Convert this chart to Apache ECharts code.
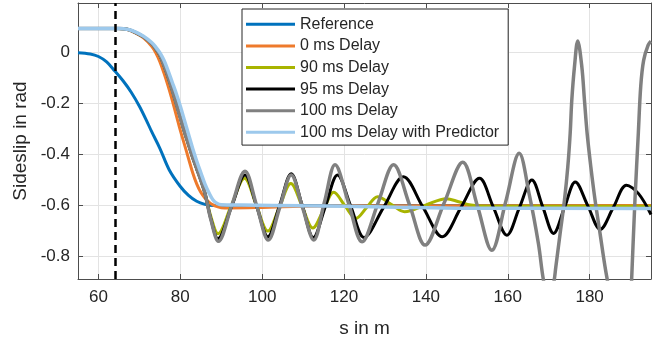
<!DOCTYPE html>
<html>
<head>
<meta charset="utf-8">
<script src="https://cdn.jsdelivr.net/npm/echarts@6/dist/echarts.min.js"></script>
<style>
html,body{margin:0;padding:0;background:#fff;}
#c{width:664px;height:343px;}
</style>
</head>
<body>
<div id="c"></div>
<script>
// ---------- data ----------
const xTicks = [60, 80, 100, 120, 140, 160, 180];
const xTickLabels = ['60', '80', '100', '120', '140', '160', '180'];
const yTicks = [-0.8, -0.6, -0.4, -0.2, 0];
const yTickLabels = ['-0.8', '-0.6', '-0.4', '-0.2', '0'];
const xRange = [55, 195];
const yRange = [-0.888, 0.195];
const triggerS = 64;

const seriesNames = ['Reference', '0 ms Delay', '90 ms Delay', '95 ms Delay', '100 ms Delay', '100 ms Delay with Predictor'];

const refS = [55, 58, 60, 62, 64, 66, 68, 70, 72, 73, 75, 77.3, 80, 82, 84, 86, 88, 90, 195];
const refV = [0, -0.005, -0.015, -0.036, -0.072, -0.11, -0.155, -0.21, -0.275, -0.31, -0.375, -0.46, -0.525, -0.56, -0.583, -0.595, -0.6, -0.6, -0.6];

const d0S = [55, 65, 67, 69, 71, 73, 74, 75, 76, 77, 78, 79, 80, 81, 82, 83, 84, 85, 86, 87, 88, 89, 90, 92, 100, 110, 120, 195];
const d0V = [0.095, 0.095, 0.091, 0.078, 0.058, 0.025, 0.0, -0.035, -0.08, -0.13, -0.185, -0.245, -0.305, -0.36, -0.415, -0.47, -0.515, -0.548, -0.57, -0.586, -0.597, -0.604, -0.608, -0.609, -0.607, -0.603, -0.601, -0.6];

const d90S = [55, 65, 67, 69, 71, 73, 74, 75, 76, 77, 78, 79, 80, 81, 82, 83, 84, 85, 86, 87.5, 89.2, 92.45, 95.7, 98.55, 101.4, 104.2, 107.0, 109.7, 112.4, 114.95, 117.5, 120.2, 122.9, 125.55, 128.2, 131.5, 134.8, 139.9, 145.0, 148, 151, 155, 195];
const d90V = [0.095, 0.095, 0.092, 0.08, 0.062, 0.035, 0.015, -0.01, -0.05, -0.095, -0.145, -0.2, -0.255, -0.31, -0.36, -0.41, -0.455, -0.5, -0.55, -0.645, -0.71, -0.6, -0.493, -0.597, -0.70, -0.606, -0.513, -0.6, -0.688, -0.618, -0.548, -0.6, -0.65, -0.607, -0.565, -0.595, -0.624, -0.598, -0.573, -0.585, -0.598, -0.603, -0.603];

const d95S = [55, 65, 67, 69, 71, 73, 74, 75, 76, 77, 78, 79, 80, 81, 82, 83, 84, 85, 86, 87.5, 89.2, 92.5, 95.8, 98.6, 101.4, 104.25, 107.1, 109.8, 112.5, 115.45, 118.4, 121.65, 124.9, 129.7, 134.5, 139.25, 144.0, 148.55, 153.1, 156.45, 159.8, 162.85, 165.9, 168.55, 171.2, 173.85, 176.5, 179.55, 182.6, 185.8, 189.0, 191.9, 195];
const d95V = [0.095, 0.095, 0.092, 0.08, 0.062, 0.035, 0.015, -0.01, -0.05, -0.095, -0.145, -0.2, -0.255, -0.31, -0.36, -0.41, -0.455, -0.5, -0.55, -0.655, -0.73, -0.605, -0.48, -0.6, -0.722, -0.6, -0.475, -0.6, -0.725, -0.603, -0.48, -0.603, -0.725, -0.606, -0.487, -0.605, -0.722, -0.608, -0.493, -0.605, -0.716, -0.608, -0.5, -0.605, -0.709, -0.608, -0.507, -0.6, -0.693, -0.607, -0.52, -0.552, -0.635];

const d100S = [55, 65, 67, 69, 71, 73, 74, 75, 76, 77, 78, 79, 80, 81, 82, 83, 84, 85, 86, 87.5, 89.3, 92.55, 95.8, 98.65, 101.5, 104.3, 107.1, 109.85, 112.6, 115.2, 117.8, 121.1, 124.4, 128.3, 132.1, 136.0, 139.8, 144.4, 149.0, 152.6, 156.1, 159.5, 162.8, 165.3, 167.5, 168.7, 169.9, 171.2, 171.75, 172.8, 173.86, 174.67, 175.25, 175.65, 176.3, 177.1, 178.1, 178.74, 179.4, 180.3, 181.33, 182.55, 183.77, 185.5, 187.2, 188.8, 189.6, 190.27, 191.08, 191.9, 192.5, 193.2, 194.3, 195];
const d100V = [0.095, 0.095, 0.092, 0.08, 0.062, 0.035, 0.015, -0.01, -0.05, -0.095, -0.145, -0.2, -0.255, -0.31, -0.36, -0.41, -0.455, -0.5, -0.55, -0.657, -0.74, -0.6, -0.465, -0.6, -0.735, -0.607, -0.48, -0.607, -0.735, -0.587, -0.44, -0.59, -0.742, -0.59, -0.44, -0.597, -0.755, -0.592, -0.43, -0.602, -0.775, -0.585, -0.395, -0.56, -0.75, -0.89, -0.97, -0.905, -0.84, -0.709, -0.578, -0.448, -0.317, -0.186, -0.055, 0.046, -0.055, -0.186, -0.317, -0.448, -0.578, -0.709, -0.84, -1.0, -1.2, -1.3, -1.15, -0.89, -0.578, -0.317, -0.13, -0.03, 0.03, 0.045];

const predS = [55, 65, 67, 69, 71, 73, 74, 75, 76, 77, 78, 79, 80, 81, 82, 83, 84, 85, 86, 87, 88, 89, 90, 95, 110, 130, 150, 195];
const predV = [0.095, 0.095, 0.092, 0.082, 0.065, 0.04, 0.022, 0.0, -0.03, -0.07, -0.115, -0.16, -0.21, -0.265, -0.32, -0.375, -0.425, -0.47, -0.515, -0.55, -0.578, -0.592, -0.597, -0.598, -0.601, -0.605, -0.61, -0.611];

const colors = ['#0072BD', '#EE7A2C', '#A8B400', '#000000', '#808080', '#9DC9EC'];
const widths = [3, 3, 3, 3, 3.5, 3.5];

// ---------- build ----------
function pairs(xs, ys) { return xs.map((x, i) => [x, ys[i]]); }
const allData = [pairs(refS, refV), pairs(d0S, d0V), pairs(d90S, d90V), pairs(d95S, d95V), pairs(d100S, d100V), pairs(predS, predV)];

const FONT = 'Liberation Sans, Arial, Helvetica, sans-serif';
const TXT = '#262626';
const AX = '#4d4d4d';

const series = allData.map((d, i) => ({
  name: seriesNames[i],
  type: 'line',
  data: d,
  smooth: 0.35,
  showSymbol: false,
  symbol: 'none',
  clip: true,
  xAxisIndex: 0,
  yAxisIndex: 0,
  lineStyle: { color: colors[i], width: widths[i] },
  itemStyle: { color: colors[i] },
  animation: false
}));
series[5].markLine = {
  silent: true,
  symbol: ['none', 'none'],
  label: { show: false },
  lineStyle: { color: '#000', width: 2.5, type: [8, 5] },
  data: [{ xAxis: triggerS }],
  animation: false
};

const xBase = {
  type: 'value', min: xRange[0], max: xRange[1],
  axisLine: { show: true, onZero: false, lineStyle: { color: AX, width: 1 } },
  axisTick: { show: true, inside: true, length: 5, customValues: xTicks, lineStyle: { color: AX } },
  splitLine: { show: false }
};
const yBase = {
  type: 'value', min: yRange[0], max: yRange[1],
  axisLine: { show: true, onZero: false, lineStyle: { color: AX, width: 1 } },
  axisTick: { show: true, inside: true, length: 5, customValues: yTicks, lineStyle: { color: AX } },
  splitLine: { show: false }
};

const option = {
  animation: false,
  backgroundColor: '#fff',
  grid: { left: 78, top: 3, width: 573, height: 276, containLabel: false },
  xAxis: [
    Object.assign({}, xBase, {
      position: 'bottom',
      name: 's in m', nameLocation: 'middle', nameGap: 40,
      nameTextStyle: { fontFamily: FONT, fontSize: 19, color: TXT },
      splitLine: { show: true, lineStyle: { color: '#e3e3e3', width: 1 } },
      axisLabel: { show: true, customValues: xTicks, margin: 10, fontFamily: FONT, fontSize: 17, color: TXT,
        formatter: v => xTickLabels[xTicks.indexOf(v)] }
    }),
    Object.assign({}, xBase, { position: 'top', axisLabel: { show: false } })
  ],
  yAxis: [
    Object.assign({}, yBase, {
      position: 'left',
      name: 'Sideslip in rad', nameLocation: 'middle', nameGap: 42, nameRotate: 90,
      nameTextStyle: { fontFamily: FONT, fontSize: 19, color: TXT },
      splitLine: { show: true, lineStyle: { color: '#e3e3e3', width: 1 } },
      axisLabel: { show: true, customValues: yTicks, margin: 8, fontFamily: FONT, fontSize: 17, color: TXT,
        formatter: v => { const k = yTicks.findIndex(t => Math.abs(t - v) < 1e-9); return k >= 0 ? yTickLabels[k] : ''; } }
    }),
    Object.assign({}, yBase, { position: 'right', axisLabel: { show: false } })
  ],
  legend: {
    show: true,
    orient: 'vertical',
    left: 242, top: 9,
    data: seriesNames,
    icon: 'rect',
    itemWidth: 49, itemHeight: 3,
    itemGap: 0,
    padding: [4.5, 9, 2, 4],
    backgroundColor: '#fff',
    borderColor: '#262626', borderWidth: 1,
    textStyle: { fontFamily: FONT, fontSize: 16, color: TXT, lineHeight: 21.6 },
    selectedMode: false
  },
  series: series
};

const chart = echarts.init(document.getElementById('c'), null, { renderer: 'canvas' });
chart.setOption(option);
</script>
</body>
</html>
